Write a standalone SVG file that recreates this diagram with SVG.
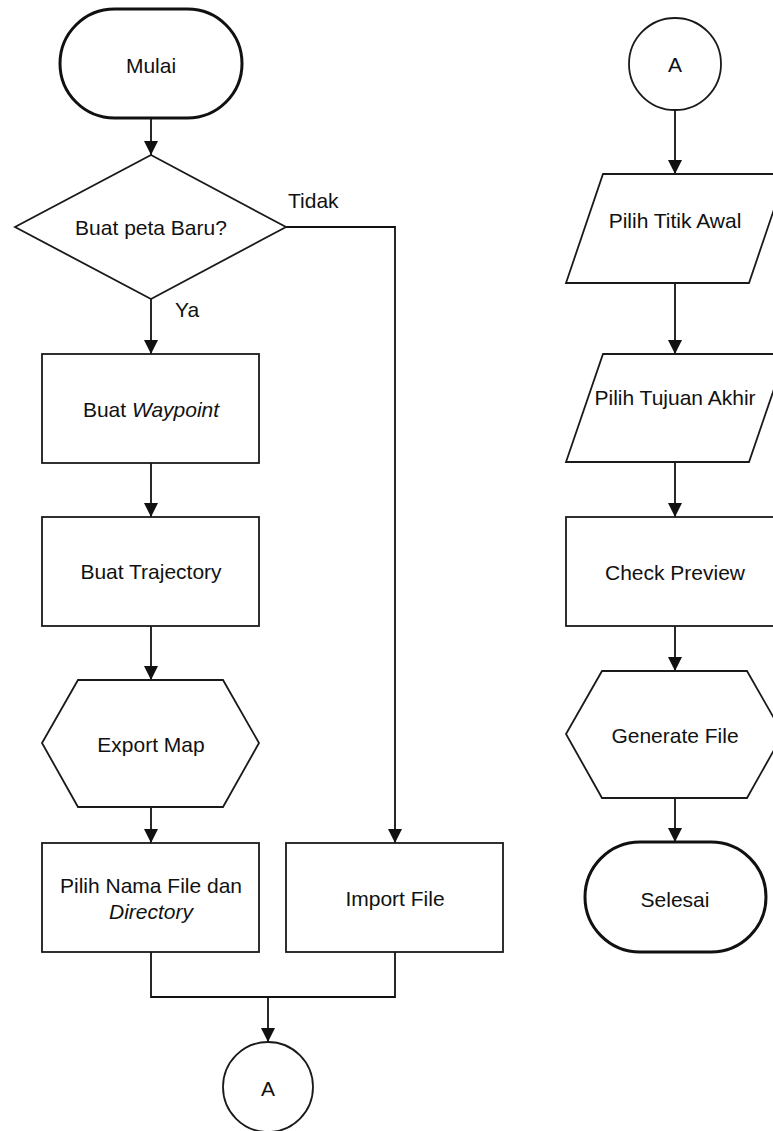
<svg xmlns="http://www.w3.org/2000/svg" width="773" height="1131" viewBox="0 0 773 1131">
  <style>
    .shape { fill: #ffffff; stroke: #1a1a1a; stroke-width: 1.8; }
    .term { fill: #ffffff; stroke: #111111; stroke-width: 3; }
    .edge { fill: none; stroke: #111111; stroke-width: 1.8; }
    text { font-family: "Liberation Sans", Arial, sans-serif; font-size: 21px; fill: #111111; text-anchor: middle; }
    .lbl { text-anchor: start; }
  </style>
  <defs>
    <marker id="arrow" viewBox="0 0 14 14" refX="14" refY="7" markerWidth="14" markerHeight="14" markerUnits="userSpaceOnUse" orient="auto">
      <path d="M0,0 L14,7 L0,14 z" fill="#111111"/>
    </marker>
  </defs>

  <!-- connectors -->
  <g id="connectors">
    <line class="edge" x1="151" y1="118" x2="151" y2="155" marker-end="url(#arrow)"/>
    <line class="edge" x1="151" y1="299" x2="151" y2="354" marker-end="url(#arrow)"/>
    <line class="edge" x1="151" y1="463" x2="151" y2="517" marker-end="url(#arrow)"/>
    <line class="edge" x1="151" y1="626" x2="151" y2="680" marker-end="url(#arrow)"/>
    <line class="edge" x1="151" y1="807" x2="151" y2="843" marker-end="url(#arrow)"/>
    <polyline class="edge" points="286,227 395,227 395,843" marker-end="url(#arrow)"/>
    <polyline class="edge" points="151,952 151,997 395,997 395,952"/>
    <line class="edge" x1="268" y1="997" x2="268" y2="1042" marker-end="url(#arrow)"/>
    <line class="edge" x1="675" y1="110" x2="675" y2="174" marker-end="url(#arrow)"/>
    <line class="edge" x1="675" y1="283" x2="675" y2="354" marker-end="url(#arrow)"/>
    <line class="edge" x1="675" y1="462" x2="675" y2="517" marker-end="url(#arrow)"/>
    <line class="edge" x1="675" y1="626" x2="675" y2="671" marker-end="url(#arrow)"/>
    <line class="edge" x1="675" y1="798" x2="675" y2="842" marker-end="url(#arrow)"/>
    <text class="lbl" x="288" y="208">Tidak</text>
    <text class="lbl" x="175" y="317">Ya</text>
  </g>

  <!-- left column -->
  <g id="mulai">
    <rect class="term" x="60" y="9" width="182" height="109" rx="54.5" ry="54.5"/>
    <text x="151" y="73">Mulai</text>
  </g>
  <g id="buat-peta-baru">
    <polygon class="shape" points="151,155 286,227 151,299 15,227"/>
    <text x="151" y="235">Buat peta Baru?</text>
  </g>
  <g id="buat-waypoint">
    <rect class="shape" x="42" y="354" width="217" height="109"/>
    <text x="151" y="417">Buat <tspan font-style="italic">Waypoint</tspan></text>
  </g>
  <g id="buat-trajectory">
    <rect class="shape" x="42" y="517" width="217" height="109"/>
    <text x="151" y="579">Buat Trajectory</text>
  </g>
  <g id="export-map">
    <polygon class="shape" points="78,680 223,680 259,743 223,807 78,807 42,743"/>
    <text x="151" y="752">Export Map</text>
  </g>
  <g id="pilih-nama-file">
    <rect class="shape" x="42" y="843" width="217" height="109"/>
    <text x="151" y="893">Pilih Nama File dan</text>
    <text x="151" y="919" font-style="italic">Directory</text>
  </g>
  <g id="import-file">
    <rect class="shape" x="286" y="843" width="217" height="109"/>
    <text x="395" y="906">Import File</text>
  </g>
  <g id="konektor-a-bawah">
    <circle class="shape" cx="268" cy="1087" r="45"/>
    <text x="268" y="1096">A</text>
  </g>

  <!-- right column -->
  <g id="konektor-a-atas">
    <circle class="shape" cx="675" cy="64" r="46"/>
    <text x="675" y="72">A</text>
  </g>
  <g id="pilih-titik-awal">
    <polygon class="shape" points="603,174 786,174 749,283 566,283"/>
    <text x="675" y="228">Pilih Titik Awal</text>
  </g>
  <g id="pilih-tujuan-akhir">
    <polygon class="shape" points="603,354 786,354 749,462 566,462"/>
    <text x="675" y="405">Pilih Tujuan Akhir</text>
  </g>
  <g id="check-preview">
    <rect class="shape" x="566" y="517" width="217" height="109"/>
    <text x="675" y="580">Check Preview</text>
  </g>
  <g id="generate-file">
    <polygon class="shape" points="602,671 747,671 783,734 747,798 602,798 566,734"/>
    <text x="675" y="743">Generate File</text>
  </g>
  <g id="selesai">
    <rect class="term" x="585" y="842" width="181" height="110" rx="55" ry="55"/>
    <text x="675" y="907">Selesai</text>
  </g>
</svg>
